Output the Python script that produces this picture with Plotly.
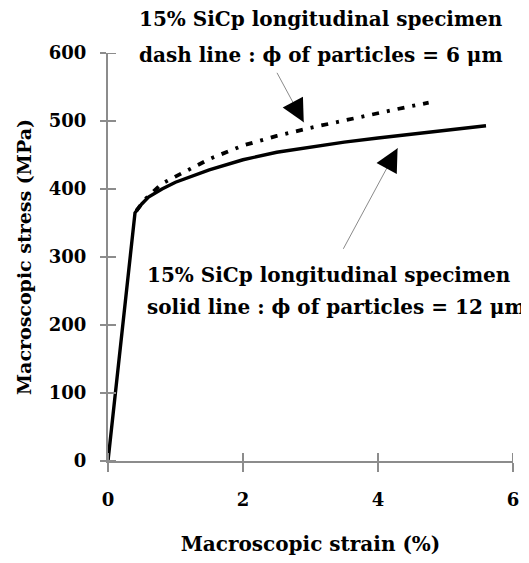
import math
import plotly.graph_objects as go

# ---- data ----
solid_strain = [0, 0.40, 0.50, 0.60, 0.80, 1.0, 1.5, 2.0, 2.5, 3.0, 3.5, 4.0, 4.5, 5.0, 5.6]
solid_stress = [0, 365, 378, 388, 400, 410, 428, 443, 454, 462, 469, 475, 481, 487, 493]

dash_strain = [0.42, 0.55, 0.80, 1.10, 1.50, 2.00, 2.50, 3.00, 3.50, 4.00, 4.40, 4.75]
dash_stress = [368, 385, 408, 424, 444, 464, 478, 490, 501, 512, 520, 527]

x_ticks = [0, 2, 4, 6]
y_ticks = [0, 100, 200, 300, 400, 500, 600]

FONT = "DejaVu Serif"
AX = "#8c8c8c"

fig = go.Figure()
fig.add_trace(go.Scatter(x=solid_strain, y=solid_stress, mode="lines",
                         line=dict(color="black", width=3.4), showlegend=False))
fig.add_trace(go.Scatter(x=dash_strain, y=dash_stress, mode="lines",
                         line=dict(color="black", width=3.8, dash="7px,8px,3px,8px"),
                         showlegend=False))

# inside halves of the crossing tick marks
shapes = []
for v in x_ticks:
    shapes.append(dict(type="line", xref="x", yref="y", x0=v, x1=v,
                       ysizemode="pixel", yanchor=0, y0=0, y1=8,
                       line=dict(color=AX, width=2)))
for v in y_ticks:
    shapes.append(dict(type="line", xref="x", yref="y", y0=v, y1=v,
                       xsizemode="pixel", xanchor=0, x0=0, x1=8,
                       line=dict(color=AX, width=2)))

tfont = dict(family=FONT, size=20, color="black", weight="bold")
ann = []
# top label
ann.append(dict(xref="paper", yref="paper", x=(137 - 108) / 411, y=(461 - 19) / 408,
                xanchor="left", yanchor="middle", showarrow=False,
                text="15% SiCp longitudinal specimen", font=tfont))
ann.append(dict(xref="paper", yref="paper", x=(137 - 108) / 411, y=(461 - 55) / 408,
                xanchor="left", yanchor="middle", showarrow=False,
                text="dash line : ϕ of particles = 6 μm", font=tfont))
# bottom label
ann.append(dict(xref="paper", yref="paper", x=(146 - 108) / 411, y=(461 - 275) / 408,
                xanchor="left", yanchor="middle", showarrow=False,
                text="15% SiCp longitudinal specimen", font=tfont))
ann.append(dict(xref="paper", yref="paper", x=(146 - 108) / 411, y=(461 - 307) / 408,
                xanchor="left", yanchor="middle", showarrow=False,
                text="solid line : ϕ of particles = 12 μm", font=tfont))


# arrows: thin grey stem + black triangular head
def arrow(x, y, dx, dy, stem_len):
    n = math.hypot(dx, dy)
    ux, uy = dx / n, dy / n
    ann.append(dict(x=x, y=y, xref="x", yref="y", text="", showarrow=True,
                    font=dict(size=1), arrowhead=0, arrowwidth=1, arrowcolor="#8a8a8a",
                    ax=-ux * stem_len, ay=-uy * stem_len))
    ann.append(dict(x=x, y=y, xref="x", yref="y", text="", showarrow=True,
                    font=dict(size=1), arrowhead=2, arrowsize=4.6, arrowwidth=1,
                    arrowcolor="black", ax=-ux * 12, ay=-uy * 12))


arrow(2.9, 498, 27, 50, 58)
arrow(4.29, 460, 55, -102, 116)

fig.update_layout(
    width=521, height=555,
    margin=dict(l=100, r=10, t=45, b=102),
    paper_bgcolor="white", plot_bgcolor="white",
    font=dict(family=FONT, color="black"),
    shapes=shapes, annotations=ann,
    xaxis=dict(range=[0, 6], tickvals=x_ticks, ticktext=[str(v) for v in x_ticks],
               showgrid=False, zeroline=False, showline=True, linecolor=AX, linewidth=2,
               ticks="outside", ticklen=9, tickwidth=2, tickcolor=AX,
               tickfont=dict(family=FONT, size=18, weight="bold"), ticklabelstandoff=12,
               title=dict(text="Macroscopic strain (%)", standoff=28,
                          font=dict(family=FONT, size=20, weight="bold"))),
    yaxis=dict(range=[0, 600], tickvals=y_ticks, ticktext=[str(v) for v in y_ticks],
               showgrid=False, zeroline=False, showline=True, linecolor=AX, linewidth=2,
               ticks="outside", ticklen=6, tickwidth=2, tickcolor=AX,
               tickfont=dict(family=FONT, size=18, weight="bold"), ticklabelstandoff=10,
               title=dict(text="Macroscopic stress (MPa)", standoff=12,
                          font=dict(family=FONT, size=19, weight="bold"))),
)

fig.write_html("out.html")
